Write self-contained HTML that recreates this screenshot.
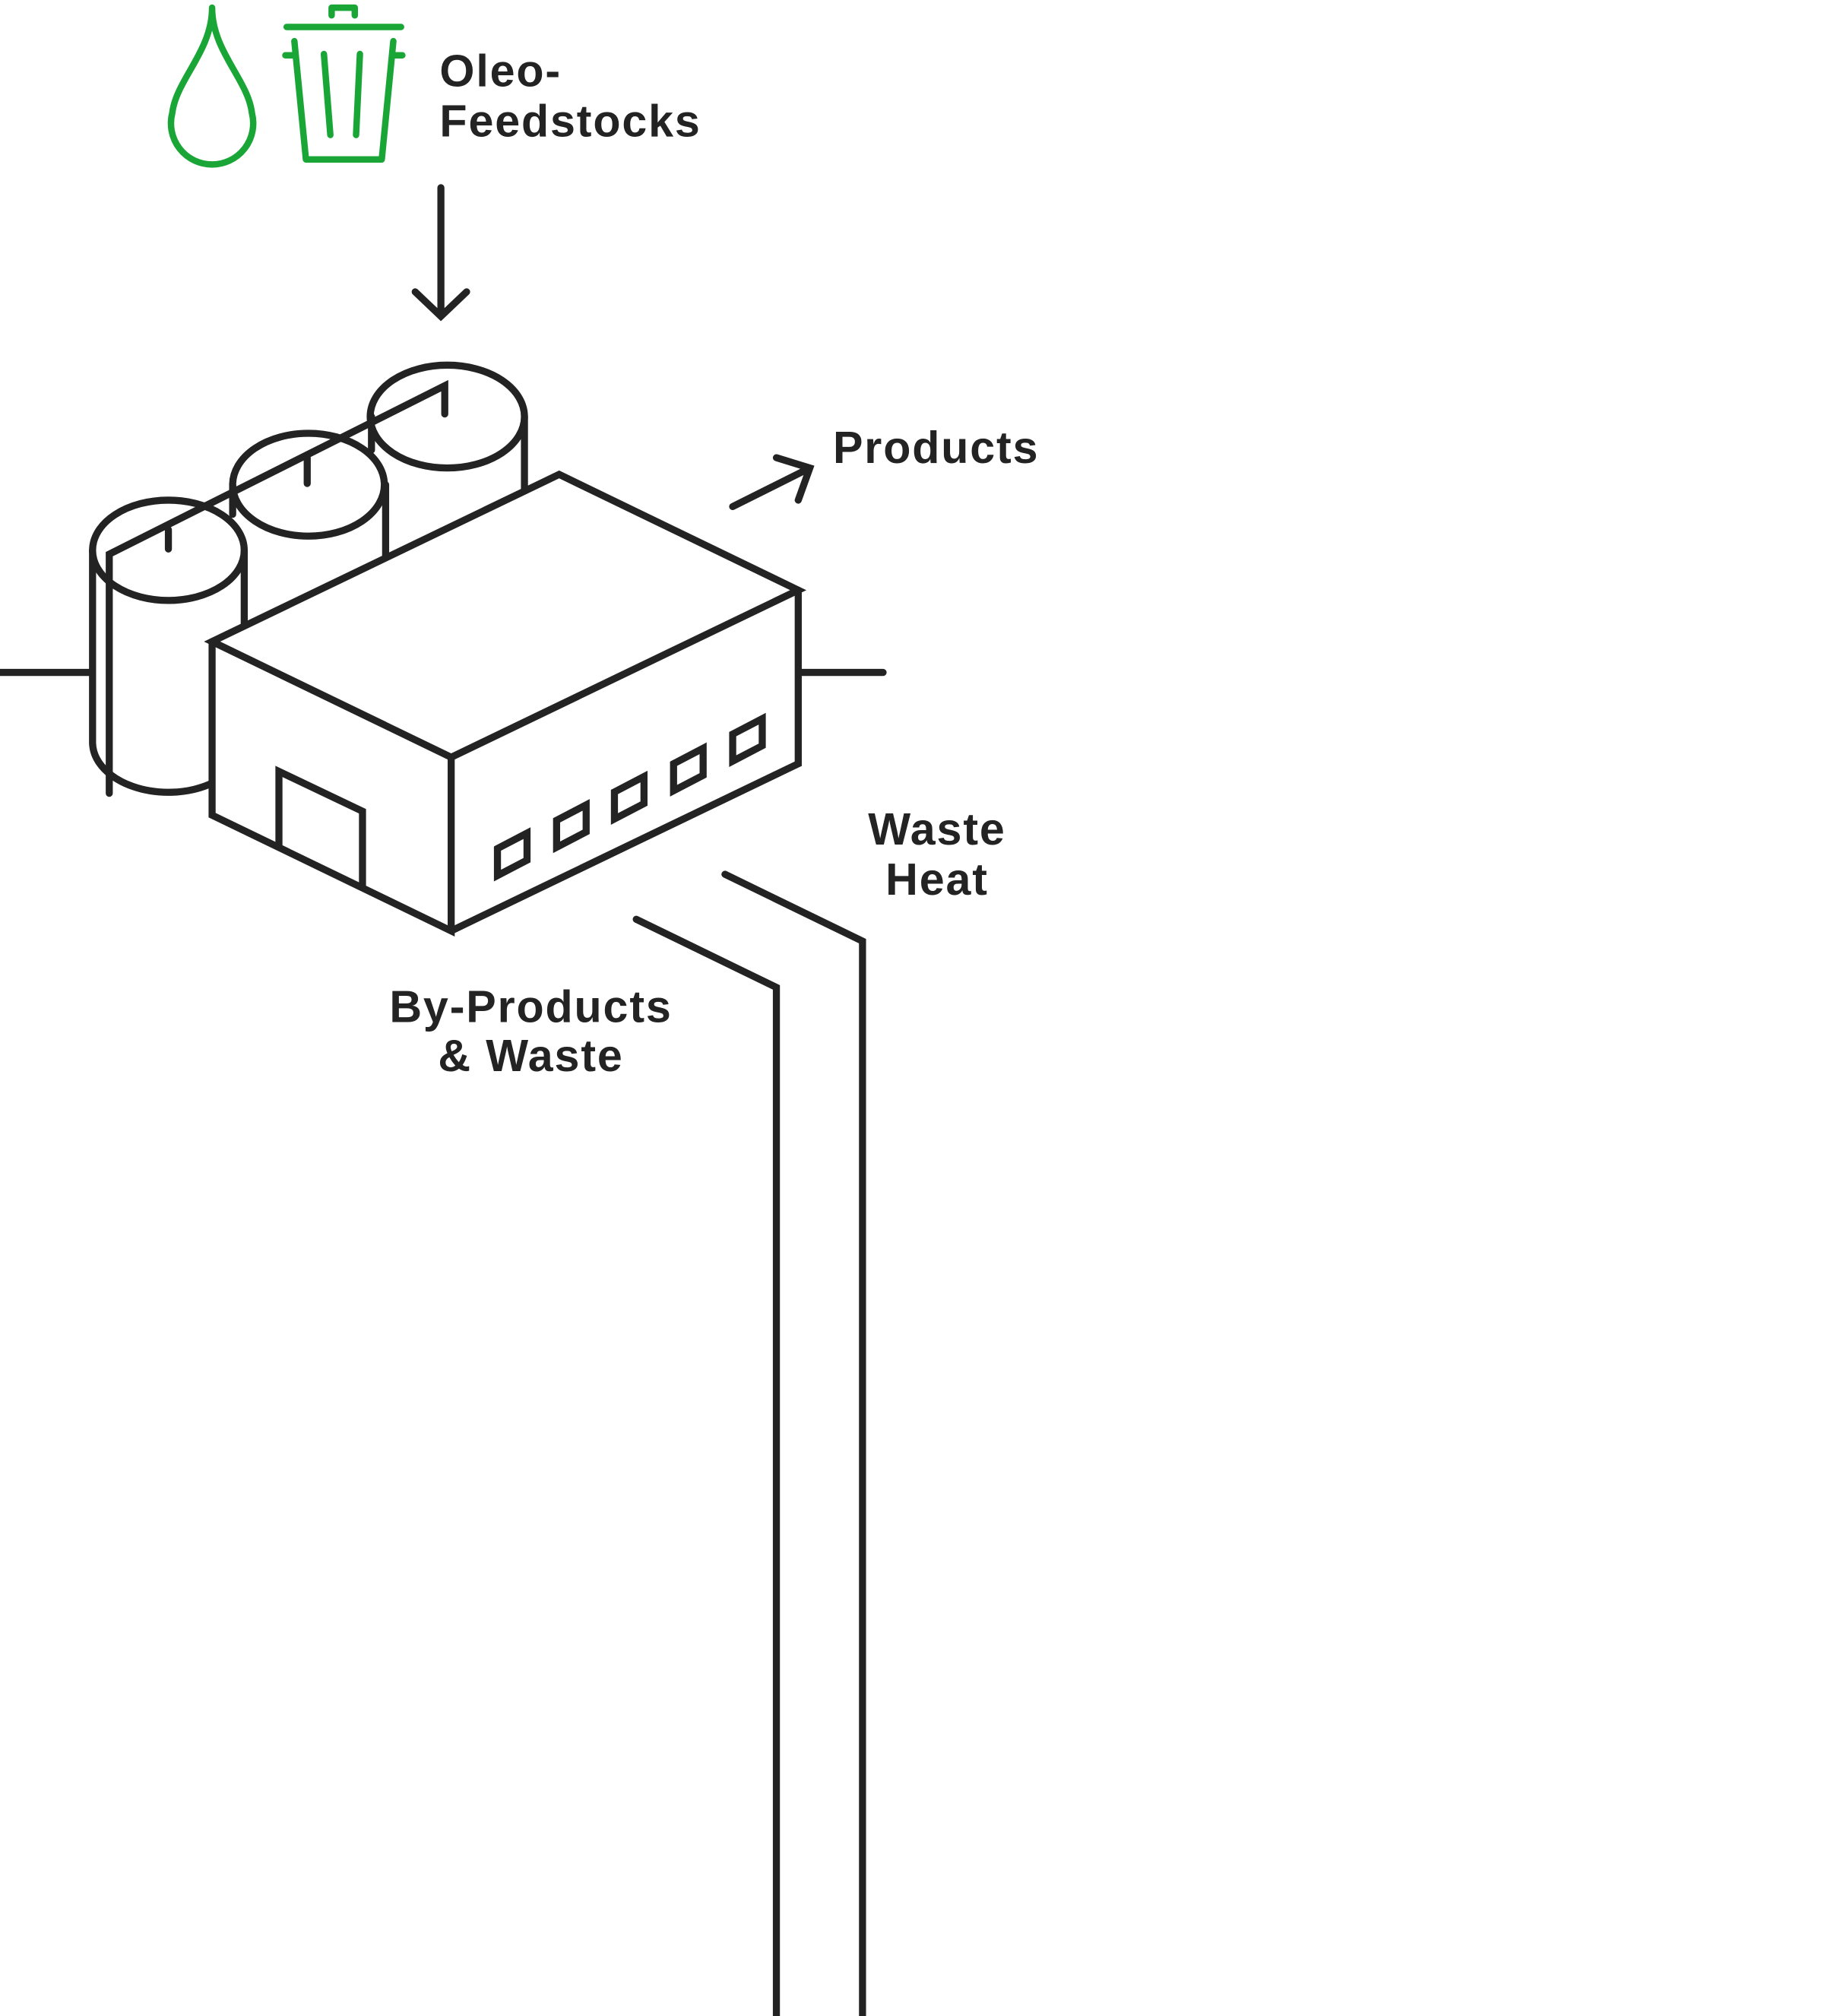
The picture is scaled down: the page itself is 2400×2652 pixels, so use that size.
<!DOCTYPE html>
<html><head><style>html,body{margin:0;padding:0;background:#fff}svg{display:block}</style></head>
<body>
<svg width="2400" height="2652" viewBox="0 0 1419 1568" xmlns="http://www.w3.org/2000/svg">
<g fill="none" stroke="#232323" stroke-width="5.5" stroke-linecap="round" stroke-linejoin="miter">
<path d="M408,380 V324"/>
<ellipse cx="348" cy="324" rx="60" ry="40" fill="#fff"/>
<path d="M289,324 V350"/>
<path d="M300,432 V377"/>
<ellipse cx="240" cy="377" rx="59" ry="40" fill="#fff"/>
<path d="M181,377 V400"/>
<path d="M190,485 V428"/>
<path d="M72,428 V578 A59,39 0 0 0 163,610"/>
<ellipse cx="131" cy="428" rx="59" ry="39" fill="none"/>
<path d="M85,617 V431 L346,300 V322"/>
<path d="M131,412 V427 M239,356 V376"/>
<path d="M165,499 L435,369 L621,459 L351,589 Z" fill="#fff"/>
<path d="M165,499 V634 L351,724 V589"/>
<path d="M351,724 L621,594 V459"/>
<path d="M217,657 V600 L282,631 V690"/>
<path d="M387,660 L410,648 V669 L387,681 Z"/>
<path d="M433,638 L456,626 V647 L433,659 Z"/>
<path d="M478,616 L501,604 V625 L478,637 Z"/>
<path d="M524,594 L547,582 V603 L524,615 Z"/>
<path d="M570,571 L593,559 V580 L570,592 Z"/>
<path d="M0,523 H70 M622,523 H687"/>
<path d="M343,146 V246 M323,227 L343,246 L363,227"/>
<path d="M570,394 L630,364 M604,356 L630,364 L621,389"/>
<path d="M495,715 L604,768 V1568"/>
<path d="M564,680 L671,732 V1568"/>
</g>
<g fill="none" stroke="#1aa637" stroke-width="5" stroke-linecap="round" stroke-linejoin="round">
<path d="M165,6 C165,40 137,62 134,88 A32,32 0 1 0 196,88 C193,62 165,40 165,6 Z"/>
<path d="M223,21 H312 M258,12 V6 H276 V12 M222,43 H229 M306,43 H313"/>
<path d="M229,32 L238,124 H297 L306,32"/>
<path d="M252,42 L257,105 M280,42 L277,105"/>
</g>
<g font-family="Liberation Sans, sans-serif" font-weight="bold" font-size="35" fill="#232323" letter-spacing="1.1">
<text x="342" y="67">Oleo-</text>
<text x="342" y="106">Feedstocks</text>
<text x="648" y="360">Products</text>
<text x="729" y="657" text-anchor="middle">Waste</text>
<text x="729" y="696" text-anchor="middle">Heat</text>
<text x="413" y="795" text-anchor="middle">By-Products</text>
<text x="413" y="833" text-anchor="middle">&amp; Waste</text>
</g>
</svg>
</body></html>
